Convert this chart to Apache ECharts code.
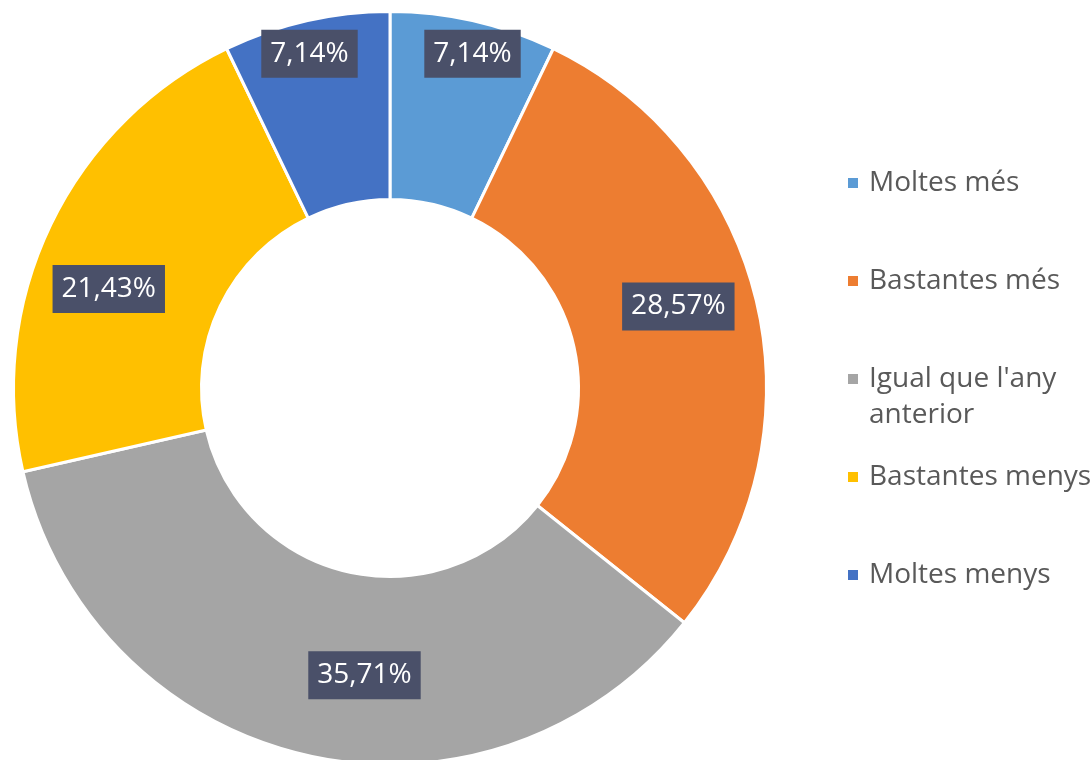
<!DOCTYPE html>
<html>
<head>
<meta charset="utf-8">
<script src="https://cdn.jsdelivr.net/npm/echarts@6/dist/echarts.min.js"></script>
<style>
  html, body { margin: 0; padding: 0; background: #ffffff; }
  #chart { width: 1090px; height: 760px; }
</style>
</head>
<body>
<div id="chart"></div>
<script>
// ---- data ----
const categories = ['Moltes més', 'Bastantes més', "Igual que l'any anterior", 'Bastantes menys', 'Moltes menys'];
const percents = [7.14, 28.57, 35.71, 21.43, 7.14];
const sliceColors = ['#5B9BD5', '#ED7D31', '#A5A5A5', '#FFC000', '#4472C4'];
// label nudges (px) relative to the ring mid-point, mimicking the original placement
const labelNudgeX = [19, 10, 38, -24, -17];
const labelNudgeY = [-56, -18, 9, 25, -56];

const chart = echarts.init(document.getElementById('chart'), null, { renderer: 'canvas' });

const FONT = '"Open Sans", "Noto Sans", sans-serif';
const LH = 36;

const option = {
  backgroundColor: '#ffffff',
  animation: false,
  color: sliceColors,
  legend: {
    orient: 'vertical',
    left: 846,
    top: 129,
    padding: 0,
    itemGap: -10,
    itemWidth: 12,
    itemHeight: 12,
    icon: 'rect',
    data: categories,
    formatter: function (name) {
      // blank line above keeps the icon level with the first text line
      return name === "Igual que l'any anterior" ? "\nIgual que l'any\nanterior" : "\n" + name + "\n";
    },
    textStyle: {
      fontFamily: FONT,
      fontSize: 28,
      lineHeight: LH,
      color: '#595959',
      padding: [0, 0, 0, 5]
    }
  },
  series: [{
    type: 'pie',
    center: [390, 388],
    radius: [188.5, 376.5],
    startAngle: 90,
    clockwise: true,
    avoidLabelOverlap: false,
    itemStyle: { borderColor: '#ffffff', borderWidth: 3 },
    label: {
      show: true,
      position: 'inside',
      formatter: function (p) { return p.value.toFixed(2).replace('.', ',') + '%'; },
      fontFamily: FONT,
      fontSize: 28,
      lineHeight: 30,
      color: '#ffffff',
      backgroundColor: '#4a5069',
      padding: [9, 9]
    },
    labelLine: { show: false },
    labelLayout: function (params) {
      const i = params.dataIndex;
      return { dx: labelNudgeX[i], dy: labelNudgeY[i] };
    },
    emphasis: { disabled: true },
    data: categories.map((name, i) => ({ name: name, value: percents[i] }))
  }]
};

chart.setOption(option);
</script>
</body>
</html>
